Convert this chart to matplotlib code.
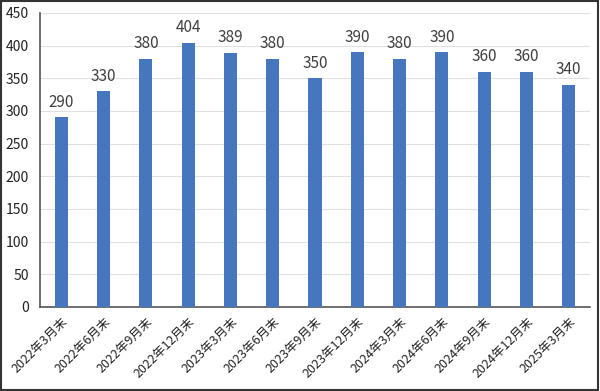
import matplotlib.pyplot as plt
from matplotlib.patches import Rectangle
import numpy as np

plt.rcParams['font.family'] = ['Noto Sans CJK JP', 'DejaVu Sans']

# データ
periods = ['2022年3月末', '2022年6月末', '2022年9月末', '2022年12月末',
           '2023年3月末', '2023年6月末', '2023年9月末', '2023年12月末',
           '2024年3月末', '2024年6月末', '2024年9月末', '2024年12月末',
           '2025年3月末']
values = [290, 330, 380, 404, 389, 380, 350, 390, 380, 390, 360, 360, 340]

fig = plt.figure(figsize=(6, 3.91), dpi=100)
ax = fig.add_axes([0.067, 0.215, 0.916, 0.752])

x = np.arange(len(periods))
ax.bar(x, values, width=0.31, color='#4677BE', zorder=3)

for i, v in enumerate(values):
    ax.text(i, v + 10, str(v), ha='center', va='bottom', fontsize=11, color='#404040')

ax.set_xlim(-0.5, len(periods) - 0.5)
ax.set_ylim(0, 450)
ax.set_yticks(range(0, 451, 50))
ax.set_xticks(x)
ax.set_xticklabels(periods, rotation=45, ha='right', rotation_mode='anchor', fontsize=9)
ax.tick_params(axis='both', length=0, colors='#222222')
ax.tick_params(axis='x', pad=6)
ax.tick_params(axis='y', labelsize=10, pad=8)
ax.grid(True, axis='y', color='#e0e0e0', linewidth=0.8, zorder=0)

for s in ['top', 'right']:
    ax.spines[s].set_visible(False)
ax.spines['left'].set_color('#555555')
ax.spines['bottom'].set_color('#555555')
ax.spines['left'].set_linewidth(1.2)
ax.spines['bottom'].set_linewidth(1.2)

# 外枠
fig.patches.append(Rectangle((0.002, 0.003), 0.995, 0.994, transform=fig.transFigure,
                             fill=False, edgecolor='#333333', linewidth=1.5))

fig.savefig('out.png', dpi=100)
